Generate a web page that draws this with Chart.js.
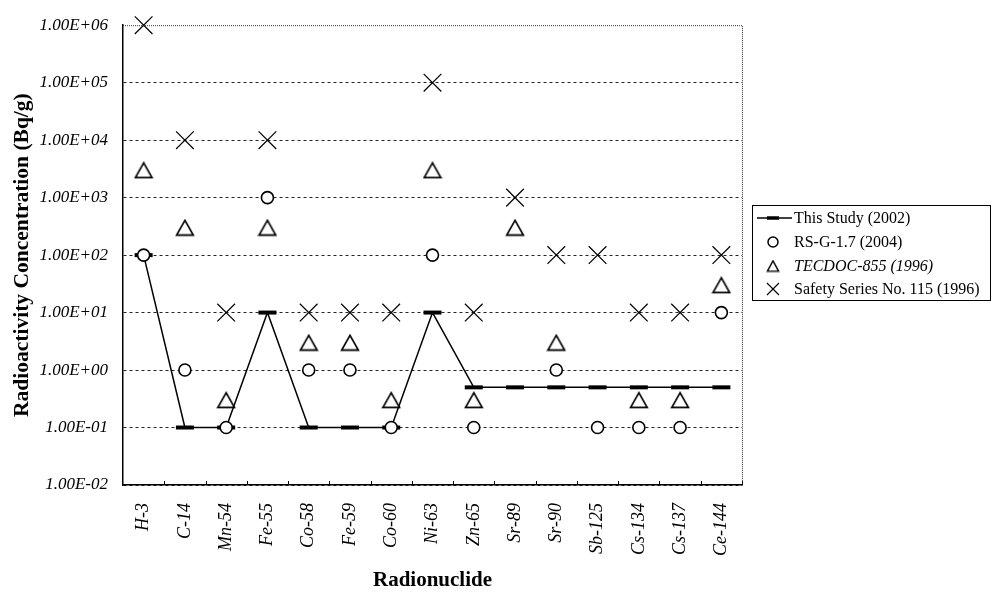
<!DOCTYPE html>
<html>
<head>
<meta charset="utf-8">
<script src="https://cdn.jsdelivr.net/npm/chart.js@4.4.0/dist/chart.umd.min.js"></script>
<style>
html, body { margin: 0; padding: 0; background: #fff; }
#wrap { width: 994px; height: 596px; }
</style>
</head>
<body>
<div id="wrap"><canvas id="c" width="994" height="596"></canvas></div>
<script>
var nuclides = ['H-3', 'C-14', 'Mn-54', 'Fe-55', 'Co-58', 'Fe-59', 'Co-60', 'Ni-63', 'Zn-65', 'Sr-89', 'Sr-90', 'Sb-125', 'Cs-134', 'Cs-137', 'Ce-144'];
var thisStudy = [100, 0.1, 0.1, 10, 0.1, 0.1, 0.1, 10, 0.5, 0.5, 0.5, 0.5, 0.5, 0.5, 0.5];
var rsg17 = [100, 1, 0.1, 1000, 1, 1, 0.1, 100, 0.1, null, 1, 0.1, 0.1, 0.1, 10];
var tecdoc855 = [3000, 300, 0.3, 300, 3, 3, 0.3, 3000, 0.3, 300, 3, null, 0.3, 0.3, 30];
var safety115 = [1e6, 1e4, 10, 1e4, 10, 10, 10, 1e5, 10, 1000, 100, 100, 10, 10, 100];
var seriesNames = ['This Study (2002)', 'RS-G-1.7 (2004)', 'TECDOC-855 (1996)', 'Safety Series No. 115 (1996)'];
var yExponents = [-2, -1, 0, 1, 2, 3, 4, 5, 6];

var serif = '"Liberation Serif", "Times New Roman", serif';

// triangle marker centred on its box, like the spreadsheet markers
function triangleImage(w, h, lw) {
	var cv = document.createElement('canvas');
	cv.width = w; cv.height = h;
	var g = cv.getContext('2d');
	g.lineWidth = lw;
	g.strokeStyle = '#000';
	g.fillStyle = '#fff';
	g.beginPath();
	g.moveTo(w / 2, lw);
	g.lineTo(w - lw, h - lw);
	g.lineTo(lw, h - lw);
	g.closePath();
	g.fill();
	g.stroke();
	return cv;
}
var triBig = triangleImage(20, 18, 1.7);
var triSmall = triangleImage(14, 13, 1.4);

function expLabel(v) {
	var e = Math.round(Math.log10(v));
	var a = Math.abs(e);
	return '1.00E' + (e < 0 ? '-' : '+') + (a < 10 ? '0' : '') + a;
}

var framePlugin = {
	id: 'frame',
	beforeDatasetsDraw: function(chart) {
		var ctx = chart.ctx, a = chart.chartArea, xs = chart.scales.x;
		ctx.save();
		ctx.strokeStyle = '#333';
		ctx.lineWidth = 1;
		ctx.setLineDash([1, 1]);
		ctx.beginPath();
		ctx.moveTo(a.left, a.top + 0.5);
		ctx.lineTo(a.right + 0.5, a.top + 0.5);
		ctx.lineTo(a.right + 0.5, a.bottom);
		ctx.stroke();
		ctx.setLineDash([]);
		ctx.strokeStyle = '#000';
		ctx.beginPath();
		for (var i = 1; i <= nuclides.length; i++) {
			var x = i < nuclides.length ? (xs.getPixelForValue(i - 1) + xs.getPixelForValue(i)) / 2 : a.right;
			x = Math.round(x) + 0.5;
			ctx.moveTo(x, a.bottom);
			ctx.lineTo(x, a.bottom - 4);
		}
		ctx.stroke();
		ctx.restore();
	},
	afterDraw: function(chart) {
		var ctx = chart.ctx;
		var bx = 752, by = 205, bw = 238, bh = 95;
		var rows = [218, 242, 266, 289];
		var sx = 773, tx = 794;
		ctx.save();
		ctx.fillStyle = '#fff';
		ctx.fillRect(bx, by, bw, bh);
		ctx.strokeStyle = '#000';
		ctx.lineWidth = 1;
		ctx.strokeRect(bx + 0.5, by + 0.5, bw, bh);

		// this study: line with dash
		ctx.lineWidth = 1.5;
		ctx.beginPath();
		ctx.moveTo(757, rows[0]);
		ctx.lineTo(792, rows[0]);
		ctx.stroke();
		ctx.lineWidth = 3.5;
		ctx.beginPath();
		ctx.moveTo(sx - 6, rows[0]);
		ctx.lineTo(sx + 6, rows[0]);
		ctx.stroke();

		// circle
		ctx.lineWidth = 1.5;
		ctx.beginPath();
		ctx.arc(sx, rows[1], 5, 0, 2 * Math.PI);
		ctx.stroke();

		// triangle
		ctx.drawImage(triSmall, sx - 7, rows[2] - 6.5);

		// cross
		ctx.lineWidth = 1.2;
		ctx.beginPath();
		ctx.moveTo(sx - 6, rows[3] - 6);
		ctx.lineTo(sx + 6, rows[3] + 6);
		ctx.moveTo(sx + 6, rows[3] - 6);
		ctx.lineTo(sx - 6, rows[3] + 6);
		ctx.stroke();

		ctx.fillStyle = '#000';
		ctx.textBaseline = 'middle';
		ctx.textAlign = 'left';
		for (var i = 0; i < seriesNames.length; i++) {
			ctx.font = (i == 2 ? 'italic ' : '') + '16px ' + serif;
			ctx.fillText(seriesNames[i], tx, rows[i] + 1);
		}
		ctx.restore();
	}
};

new Chart(document.getElementById('c'), {
	type: 'line',
	data: {
		labels: nuclides,
		datasets: [{
			label: seriesNames[0],
			data: thisStudy,
			borderColor: '#000',
			borderWidth: 1.5,
			pointStyle: 'line',
			pointRadius: 9,
			pointBorderWidth: 4,
			pointBorderColor: '#000',
			order: 10,
			clip: false
		}, {
			label: seriesNames[1],
			data: rsg17,
			showLine: false,
			pointStyle: 'circle',
			pointRadius: 6,
			pointBorderWidth: 1.6,
			pointBorderColor: '#000',
			pointBackgroundColor: '#fff',
			clip: false
		}, {
			label: seriesNames[2],
			data: tecdoc855,
			showLine: false,
			pointStyle: triBig,
			clip: false
		}, {
			label: seriesNames[3],
			data: safety115,
			showLine: false,
			pointStyle: 'crossRot',
			pointRadius: 12.5,
			pointBorderWidth: 1.2,
			pointBorderColor: '#000',
			clip: false
		}]
	},
	options: {
		responsive: false,
		animation: false,
		events: [],
		layout: { padding: { left: 0, right: 252, top: 15, bottom: 0 } },
		plugins: {
			legend: { display: false },
			tooltip: { enabled: false }
		},
		scales: {
			x: {
				type: 'category',
				offset: true,
				grid: { display: false, drawTicks: false },
				border: { display: true, color: '#000', width: 1.5 },
				ticks: {
					autoSkip: false,
					minRotation: 90,
					maxRotation: 90,
					padding: 18,
					color: '#000',
					font: { family: serif, size: 18, style: 'italic' }
				},
				title: {
					display: true,
					text: 'Radionuclide',
					color: '#000',
					padding: { top: 0, bottom: 3 },
					font: { family: serif, size: 21, weight: 'bold' }
				},
				afterFit: function(s) { s.height = 111; }
			},
			y: {
				type: 'logarithmic',
				min: 0.01,
				max: 1e6,
				afterBuildTicks: function(s) {
					s.ticks = yExponents.map(function(e) { return { value: Math.pow(10, e) }; });
				},
				grid: {
					drawTicks: false,
					lineWidth: 1,
					color: function(c) {
						return c.tick && c.tick.value >= 1e6 ? 'rgba(0,0,0,0)' : '#222';
					}
				},
				border: { display: true, color: '#000', width: 1.5, dash: [3, 3] },
				ticks: {
					padding: 15,
					color: '#000',
					font: { family: serif, size: 17, style: 'italic' },
					callback: function(v) { return expLabel(v); }
				},
				title: {
					display: true,
					text: 'Radioactivity Concentration (Bq/g)',
					color: '#000',
					padding: { top: 10, bottom: 0 },
					font: { family: serif, size: 21.5, weight: 'bold' }
				},
				afterFit: function(s) { s.width = 123; }
			}
		}
	},
	plugins: [framePlugin]
});
</script>
</body>
</html>
